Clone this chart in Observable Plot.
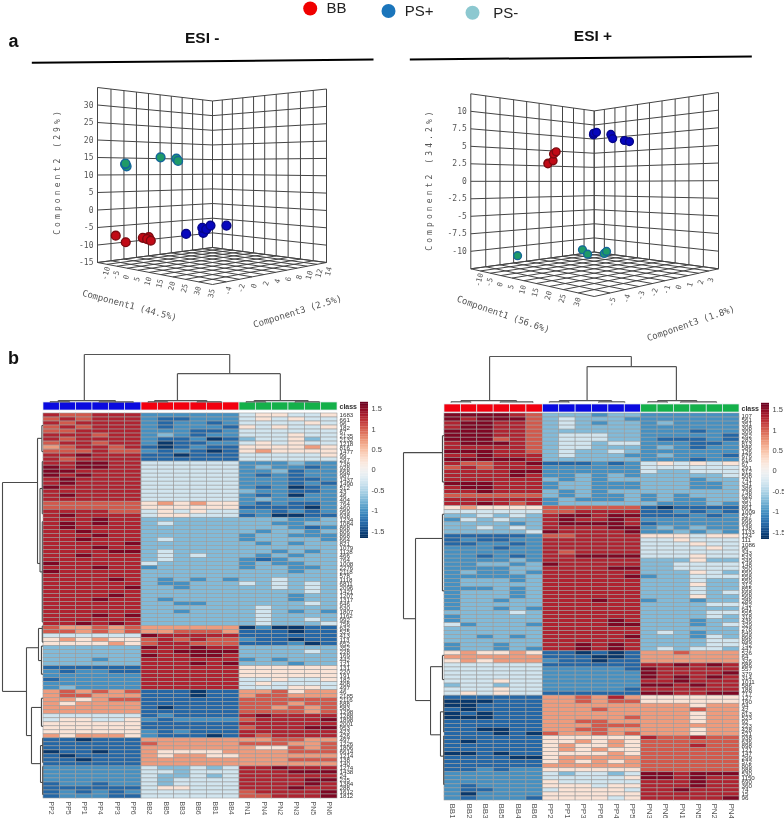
<!DOCTYPE html>
<html><head><meta charset="utf-8"><title>ESI PCA and heatmaps</title>
<style>html,body{margin:0;padding:0;background:#fff}#page{position:relative;width:784px;height:818px;overflow:hidden;filter:blur(.3px)}#page svg{position:absolute;overflow:visible}</style>
<script src="https://cdn.jsdelivr.net/npm/d3@7"></script>
<script src="https://cdn.jsdelivr.net/npm/@observablehq/plot@0.6"></script>
</head><body><div id="page"></div>
<script>
// ---------- PCA scores ----------
const negGroup=["PS-","PS-","PS-","PS-","PS-","PS-","PS+","PS+","PS+","PS+","PS+","PS+","BB","BB","BB","BB","BB","BB"];
const negC1=[-5.3,-7.7,-7.5,9.0,15.8,16.5,11.6,18.8,18.4,20.0,21.7,27.9,-12.5,-7.4,0.9,3.7,2.9,4.6];
const negC2=[12.5,13.1,13.3,14.9,14.5,13.9,-5.8,-5.0,-3.7,-4.0,-2.9,-2.5,-7.5,-9.0,-7.1,-6.7,-7.3,-7.6];
const negC3=[-4.5,-4,-4,-4,-4,-4,-1,-1,-1,-1,-1,-1,-4,-4,-4,-4,-4,-4];
const posGroup=["BB","BB","BB","BB","BB","BB","PS+","PS+","PS+","PS+","PS+","PS+","PS+","PS-","PS-","PS-","PS-","PS-"];
const posC1=[-4.5,-4.6,-2.2,-1.6,-2.0,-0.8,9.7,9.8,10.9,16.5,17.2,21.5,23.3,0.6,13.0,15.0,21.2,22.0];
const posC2=[2.7,2.6,3.0,4.1,4.0,4.3,6.6,6.8,6.9,6.4,5.8,5.4,5.2,-10.1,-9.3,-9.8,-9.4,-9.1];
const posC3=[-2,-2,-2,-2,-2,-2,-1,-1,-1,-1,-1,-1,-1,-5,-2.5,-2.5,-2.5,-2.5];
// axis ticks
const negTicks1=[-10,-5,0,5,10,15,20,25,30,35], negTicks2=[-15,-10,-5,0,5,10,15,20,25,30], negTicks3=[-4,-2,0,2,4,6,8,10,12,14];
const posTicks1=[-10,-5,0,5,10,15,20,25,30], posTicks2=[-10,-7.5,-5,-2.5,0,2.5,5,7.5,10], posTicks3=[-5,-4,-3,-2,-1,0,1,2,3];
// ---------- heatmap samples and feature labels ----------
const negSamples=["PP2","PP5","PP1","PP4","PP3","PP6","BB2","BB5","BB3","BB6","BB1","BB4","PN1","PN4","PN2","PN3","PN5","PN6"];
const posSamples=["BB1","BB2","BB3","BB5","BB4","BB6","PP2","PP1","PP3","PP6","PP4","PP5","PN3","PN6","PN1","PN5","PN2","PN4"];
const negFeatures=["1683","661","96","182","67","2135","2132","1218","816","1477","99","297","738","928","668","987","1437","1490","512","43","46","404","764","460","959","938","1234","1084","868","806","868","664","821","1079","1128","466","764","1008","2276","2118","578","1118","6811","2096","1421","1207","1317","646","630","1807","1162","992","756","632","525","413","113","652","352","228","169","442","121","131","220","191","182","408","497","46","2185","2116","688","583","1298","1288","1898","2001","953","423","426","497","1226","1806","6614","1214","138","140","1274","1438","24","235","1384","288","1612","1812"];
const posFeatures=["107","561","351","308","309","262","283","813","586","126","676","616","67","291","312","508","741","341","386","738","628","357","351","861","1009","527","666","696","138","1133","124","111","1086","96","343","533","249","148","350","559","558","559","312","855","668","568","286","752","641","555","318","436","329","278","649","868","896","752","447","526","64","326","986","557","379","314","1011","586","188","717","127","190","94","42","813","523","92","223","428","521","938","636","898","121","147","299","572","806","988","530","1150","690","360","74","15","96"];
const negClasses=["PS+","BB","PN"], posClasses=["BB","PS+","PN"];
// ---------- z-score levels: each digit 0..9 is a level ----------
const cellLevels=[-1.6,-1.3,-1.02,-.72,-.3,.22,.7,1.02,1.3,1.55];
const negCells=[
"877888 222222 455445","787888 211222 454544","878888 212212 444454","787888 212221 545445","778888 222112 444444","888788 232122 444544",
"878888 211201 344534","788788 201122 454544","678878 101211 555565","777877 212101 565555","889888 110111 444445","878888 111111 444444",
"889988 444444 222322","989988 444444 232212","998888 444444 223122","989888 444444 212122","898888 444444 222112","898888 444444 222121",
"988888 444444 212012","888888 444444 322112","898888 444444 212022","888888 444444 232222","777777 565655 212112","777777 555555 111102",
"888877 454544 221212","898888 455444 120011",
"888988 333333 333223","898988 343333 332233","898888 333333 333212","889888 333333 323323","888988 333333 233222","889888 343333 233332",
"888889 333333 323233","888988 333333 333333","888899 343333 332323","889888 343433 323233","888888 343333 212333","988888 433333 232233",
"888988 233333 233223","988888 333333 333233","888888 333333 333333","888898 323232 334333","888888 322333 434343","888889 332333 334343",
"888888 333333 333343","888898 333333 333233","888988 323333 333233","888888 332233 333343","888888 333333 343333","888888 332333 343232",
"888989 333333 343333","888888 333333 343343","889898 333333 343334",
"766767 666666 020011","776767 667776 111011","444444 988888 111111","565655 787877 211011","555565 788777 111201",
"333333 988988 333333","333333 889999 333343","333333 988998 333333","333233 888888 232333","333333 888989 333233",
"111111 888888 555555","212211 888888 555555","222222 888888 555555","122222 888888 445445","222222 888888 454444","232222 888888 444554",
"676767 111011 667566","677666 111011 677666","665677 111111 777777","656666 111111 777677","666666 101111 776767","666666 111111 777767",
"444444 121111 898888","455445 212222 788889","555555 111111 888888","555555 111111 788899","555555 212111 888888","656665 211101 878888",
"110111 666666 667766","111111 766666 777667","111111 666666 655767","011011 655556 666777","101111 656655 666666","110111 666666 666777","111111 666666 666666",
"222222 433434 889888","222222 443444 888999","222222 433434 888888","222222 434444 888899","122122 434444 888898","111111 455444 888988","121212 444444 788889","122211 444444 778889"];
const posCells=[
"999987 333233 222222","989997 343332 222222","899887 343233 232222","899887 343333 222222","999887 333333 222122","999887 344433 222221",
"999787 344433 211121","899987 344344 222112","888887 344333 232122","999887 343343 222222","889888 343332 232221","999998 333333 222122",
"877889 111212 454545","787888 222222 444444","888899 222222 433444","888898 223232 333334","888888 323233 333233","999888 233222 333223",
"899888 233222 333223","889888 323233 333333","777777 323223 232333","888888 232223 232233","889878 233333 322232",
"565555 777777 101111","444444 778888 112121","334343 899899 111212","243433 898898 222222","333323 899998 122222","334343 888899 232322","333334 988889 223232",
"111112 778888 555455","121122 888888 445444","112212 888888 444544","222122 888888 444454","222222 878888 444444","221212 889999 444544",
"222232 888888 333533","223323 988888 334444","222233 888899 334444","232232 888888 333543","222223 888889 233444","233323 888888 333433",
"233333 888888 333533","222323 888888 333433","233323 888888 333434","233323 888888 333533","233233 888988 233233","233333 888888 333344",
"233232 888888 333333","333343 888888 333344","233333 888888 333343","233333 888898 333233","423332 888899 333234","333333 888888 333333",
"333333 888888 343233","332323 888889 333243","333333 888888 333344","233233 889898 333344","233232 889898 343443",
"565565 110101 667666","666666 111001 666666","565666 211011 666666",
"444444 111111 889898","444444 222221 988888","444444 222222 988889","444444 222222 989898","444544 222222 889888","344344 222222 998988","444544 222221 888888","454544 111111 998899",
"111111 667686 555555","000111 667677 555555","001111 666666 666566","101111 666766 666766","010111 666666 666566","000111 666667 666566","111111 667766 666566","111111 666777 666666","110011 667766 666566","111010 766767 666566",
"111111 555555 877877","101111 556565 777777","111111 565565 777877","111111 565655 777777","001011 555565 777777","111100 566666 777777","111111 565656 777777","111111 666666 777777","112122 555555 777777",
"222222 434434 998999","222222 444445 998988","222222 544444 888988","212222 555455 888988","211222 455554 889888","202222 555555 888888","212221 555545 888889"];
// ---------- dendrogram merges: [height, position a, position b, child height a, child height b] ----------
const negColMerges=[[1,2.5,11.4,.04,.6],[.6,8.2,14.5,.04,.04],[.04,.9,4.4,.015,.015],[.04,6.8,10,.015,.015],[.04,12.9,16.2,.015,.015],[.015,.4,1.6,0,0],[.015,3.4,5.5,0,0],[.015,6.4,7.6,0,0],[.015,9.4,10.9,0,0],[.015,12.4,13.6,0,0],[.015,15.4,16.9,0,0]];
const posColMerges=[[1,2.75,11.4,.04,.78],[.78,8.7,14.15,.04,.04],[.04,1,4.4,.015,.015],[.04,7,10.2,.015,.015],[.04,13,15.4,.015,.015],[.015,.4,1.6,0,0],[.015,3.4,5.4,0,0],[.015,6.4,7.6,0,0],[.015,9.4,11,0,0],[.015,12.4,13.6,0,0],[.015,14.4,16.6,0,0]];
const negRowMerges=[[1,17.2,69.3,.146,.415],[.146,6.2,37.4,.04,.085],[.04,3,9.5,.01,.01],[.085,18.7,39.5,.03,.03],[.03,12,25,.01,.01],[.03,27,52,.01,.01],[.415,58.4,80.3,.122,.293],[.122,53.6,61.6,.03,.05],[.03,53,57,.005,.005],[.05,58,65,.01,.01],[.293,73.3,87.3,.05,.073],[.05,71,78,.01,.01],[.073,82.8,92,.02,.02],[.02,81,87,.005,.005],[.02,88,95,.005,.005]];
const posRowMerges=[[1,9.7,50.9,.05,.707],[.05,5.5,17,.01,.01],[.707,31,71.2,.05,.341],[.05,25,44,.01,.01],[.341,62.8,79.7,.05,.098],[.05,60,66,.01,.01],[.098,74,85,.02,.02],[.02,70,79,.005,.005],[.02,80,92,.005,.005]];
const classColors={"PS+":"#0a0adf","BB":"#f2000f","PN":"#14b04a"};
const groupFill={"BB":"#c10a16","PS+":"#0606bd","PS-":"#1f9a68"}, groupStroke={"BB":"#7d0a10","PS+":"#05058a","PS-":"#14669a"};
const legendNames=["BB","PS+","PS-"], legendColors=["#f00000","#1b75bb","#8cc8d0"];
const colorTicks=[-1.5,-1,-0.5,0,0.5,1,1.5];

// ---------- helpers ----------
const page=document.getElementById("page");
const color={type:"linear",scheme:"RdBu",reverse:true,domain:[-1.65,1.65]};
function put(svg,left,top){svg.style.left=left+"px";svg.style.top=top+"px";page.appendChild(svg);return svg}
const base={margin:0,style:{background:"transparent",overflow:"visible"}};
function homography(L,F,R,B){const dx1=F[0]-R[0],dy1=F[1]-R[1],dx2=B[0]-R[0],dy2=B[1]-R[1],sx=L[0]-F[0]+R[0]-B[0],sy=L[1]-F[1]+R[1]-B[1],den=dx1*dy2-dx2*dy1,g=(sx*dy2-dx2*sy)/den,h=(dx1*sy-sx*dy1)/den;return{a:F[0]-L[0]+g*F[0],b:B[0]-L[0]+h*B[0],c:L[0],d:F[1]-L[1]+g*F[1],e:B[1]-L[1]+h*B[1],f:L[1],g,h}}

function pca(o){
  const {dom1,dom2,dom3,wallH}=o,H=homography(...o.corners);
  const proj=(a,b,c)=>{const u=(a-dom1[0])/(dom1[1]-dom1[0]),v=(c-dom3[0])/(dom3[1]-dom3[0]),t=(b-dom2[0])/(dom2[1]-dom2[0]),w=H.g*u+H.h*v+1;
    return [(H.a*u+H.b*v+H.c)/w,(H.d*u+H.e*v+H.f)/w-t*wallH/w]};
  const range=(d,s)=>d3.range(d[0],d[1]+1e-6,s);
  const segs=[];const seg=(p,q)=>segs.push({p:proj(...p),q:proj(...q)});
  for(const b of range(dom2,o.step2)){seg([dom1[0],b,dom3[0]],[dom1[0],b,dom3[1]]);seg([dom1[0],b,dom3[1]],[dom1[1],b,dom3[1]])}
  for(const c of range(dom3,o.step3)){seg([dom1[0],dom2[0],c],[dom1[0],dom2[1],c]);seg([dom1[0],dom2[0],c],[dom1[1],dom2[0],c])}
  for(const a of range(dom1,o.step1)){seg([a,dom2[0],dom3[1]],[a,dom2[1],dom3[1]]);seg([a,dom2[0],dom3[0]],[a,dom2[0],dom3[1]])}
  const pts=o.g.map((g,i)=>({g,p:proj(o.c1[i],o.c2[i],o.c3[i])}));
  const tx=(t,opt)=>Plot.text(t.rows,{x:d=>d.p[0],y:d=>d.p[1],text:d=>d.t,fontFamily:"DejaVu Sans Mono",fill:"#555",...opt});
  const svg=Plot.plot({...base,width:392,height:345,x:{domain:[0,392],range:[0,392],axis:null},y:{domain:[345,0],range:[345,0],axis:null},
   marks:[
    Plot.link(segs,{x1:d=>d.p[0],y1:d=>d.p[1],x2:d=>d.q[0],y2:d=>d.q[1],stroke:"#444",strokeWidth:1}),
    tx({rows:o.t2.map(t=>({t,p:proj(dom1[0],t,dom3[0])}))},{textAnchor:"end",dx:-4,fontSize:8}),
    tx({rows:o.t1.map(t=>({t,p:proj(t,dom2[0],dom3[0])}))},{rotate:-75,dy:9,dx:-1,fontSize:7.5}),
    tx({rows:o.t3.map(t=>({t,p:proj(dom1[1],dom2[0],t)}))},{rotate:-75,dy:9,dx:2,fontSize:7.5}),
    Plot.text([o.titleY.text],{x:[o.titleY.at[0]],y:[o.titleY.at[1]],text:d=>d,rotate:-90,fontFamily:"DejaVu Sans Mono",fontSize:8,fill:"#555",className:"spaced"}),
    Plot.text([o.title1.text],{x:[o.title1.at[0]],y:[o.title1.at[1]],text:d=>d,rotate:o.title1.rot,fontFamily:"DejaVu Sans Mono",fontSize:9,fill:"#555"}),
    Plot.text([o.title3.text],{x:[o.title3.at[0]],y:[o.title3.at[1]],text:d=>d,rotate:o.title3.rot,fontFamily:"DejaVu Sans Mono",fontSize:9,fill:"#555"}),
    Plot.dot(pts,{x:d=>d.p[0],y:d=>d.p[1],r:o.r,fill:d=>groupFill[d.g],stroke:d=>groupStroke[d.g],strokeWidth:1.4})
   ]});
  d3.select(svg).selectAll(".spaced text,text.spaced").style("letter-spacing","3.1px");
  return svg;
}
function long(rows){return rows.flatMap((r,i)=>[...r.replace(/ /g,"")].map((ch,j)=>({i,j,v:cellLevels[+ch]})))}

function heatmap(o){
  const n=o.cells.length;
  put(Plot.plot({...base,width:o.w+50,height:o.h+20,marginRight:50,marginBottom:20,
    x:{type:"band",domain:d3.range(18),padding:0,round:false,axis:null},y:{type:"band",domain:d3.range(n),padding:0,round:false,axis:null},color,
    marks:[Plot.cell(long(o.cells),{x:"j",y:"i",fill:"v",stroke:"#9c9c9c",strokeWidth:.6}),
      Plot.axisY({anchor:"right",ticks:d3.range(n),tickSize:0,tickPadding:2,tickFormat:i=>o.features[i],fontSize:6.2,fontFamily:"Liberation Sans",label:null,fill:"#333"}),
      Plot.axisX({anchor:"bottom",ticks:d3.range(18),tickSize:0,tickPadding:3,tickRotate:90,tickFormat:j=>o.samples[j],fontSize:o.sampleSize,fontFamily:"Liberation Sans",label:null,fill:"#555"})
    ]}),o.x,o.y);
  // class bar
  const bar=o.samples.map((s,j)=>({j,c:o.classes[Math.floor(j/6)]}));
  put(Plot.plot({...base,width:o.w+30,height:o.barH,marginRight:30,x:{type:"band",domain:d3.range(18),padding:0,round:false,axis:null},y:{type:"band",domain:["class"],padding:0,round:false,axis:null},
    marks:[Plot.cell(bar,{x:"j",y:()=>"class",fill:d=>classColors[d.c],stroke:"#dfe8ee",strokeWidth:.7}),
      Plot.axisY({anchor:"right",tickSize:0,tickPadding:2,fontSize:7,fontWeight:"bold",fontFamily:"Liberation Sans",label:null,fill:"#333"})]}),o.x,o.barY);
  // column dendrogram
  const colLinks=o.colMerges.flatMap(([h,a,b,ha,hb])=>[[a,h,b,h],[a,h,a,ha],[b,h,b,hb]]);
  put(Plot.plot({...base,width:o.w,height:o.dTopH,x:{domain:[0,18],range:[0,o.w],axis:null},y:{domain:[0,1],range:[o.dTopH,0],axis:null},
    marks:[Plot.link(colLinks,{x1:d=>d[0],y1:d=>d[1],x2:d=>d[2],y2:d=>d[3],stroke:"#555",strokeWidth:1.2})]}),o.x,o.dTopY);
  // row dendrogram
  const rowLinks=o.rowMerges.flatMap(([h,a,b,ha,hb])=>[[h,a,h,b],[h,a,ha,a],[h,b,hb,b]]);
  put(Plot.plot({...base,width:41,height:o.h,x:{domain:[1,0],range:[0,41],axis:null},y:{domain:[0,n],range:[0,o.h],axis:null},
    marks:[Plot.link(rowLinks,{x1:d=>d[0],y1:d=>d[1],x2:d=>d[2],y2:d=>d[3],stroke:"#4a4a4a",strokeWidth:1.1})]}),o.x-41,o.y);
  // colour bar
  const st=.04,bands=d3.range(-1.67,1.65,st);
  put(Plot.plot({...base,width:8,height:136,x:{domain:[0,1],axis:null},y:{domain:[-1.67,1.65],range:[136,0],axis:null},color,
    marks:[Plot.rect(bands,{x1:0,x2:1,y1:d=>d,y2:d=>d+st+.005,fill:d=>d+st/2}),
      Plot.axisY(colorTicks,{anchor:"right",tickSize:0,tickPadding:3,fontSize:7.5,fontFamily:"Liberation Sans",tickFormat:d=>String(d),label:null,fill:"#444"})]}),o.cbX,o.cbY);
}

// ---------- page furniture ----------
const legendX=[309.7,388,472],legendY=[8,10.5,12.3],legendTx=[326,404.3,492.7];
put(Plot.plot({...base,width:784,height:818,x:{domain:[0,784],range:[0,784],axis:null},y:{domain:[818,0],range:[818,0],axis:null},
  marks:[
   Plot.dot(legendNames,{x:(d,i)=>legendX[i],y:(d,i)=>legendY[i],r:7,fill:(d,i)=>legendColors[i]}),
   Plot.text(legendNames,{x:(d,i)=>legendTx[i],y:(d,i)=>legendY[i],text:d=>d,textAnchor:"start",fontSize:15,fontFamily:"Liberation Sans",fill:"#222"}),
   Plot.text(["ESI -","ESI +"],{x:[201.7,592.5],y:[38,36],text:d=>d,fontSize:15.5,fontWeight:"bold",fontFamily:"Liberation Sans",fill:"#111"}),
   Plot.text(["a","b"],{x:[13,13],y:[41,358],text:d=>d,fontSize:18,fontWeight:"bold",fontFamily:"Liberation Sans",fill:"#111"}),
   Plot.link([0,1],{x1:[31.3,409.3],y1:[62.3,59],x2:[373,751.3],y2:[59,56],stroke:"#000",strokeWidth:2})
  ]}),0,0);

put(pca({corners:[[97,262],[212,284],[326,262],[212,247]],wallH:175,dom1:[-15,35],dom2:[-15,35],dom3:[-6,14],step1:5,step2:5,step3:2,
  c1:negC1,c2:negC2,c3:negC3,g:negGroup,t1:negTicks1,t2:negTicks2,t3:negTicks3,r:4.4,
  titleY:{text:"Component2 (29%)",at:[57,171]},title1:{text:"Component1 (44.5%)",at:[129,305],rot:15},title3:{text:"Component3 (2.5%)",at:[297,311],rot:-17}}),0,0);
put(pca({corners:[[78.3,268.3],[201.7,296],[326,268.3],[201.7,251.5]],wallH:175,dom1:[-15,35],dom2:[-12.5,12.5],dom3:[-6,4],step1:5,step2:2.5,step3:1,
  c1:posC1,c2:posC2,c3:posC3,g:posGroup,t1:posTicks1,t2:posTicks2,t3:posTicks3,r:3.9,
  titleY:{text:"Component2 (34.2%)",at:[37,179]},title1:{text:"Component1 (56.6%)",at:[110.7,314],rot:19},title3:{text:"Component3 (1.8%)",at:[298.3,323],rot:-19}}),392,0);

heatmap({x:43,y:413,w:294,h:385,cells:negCells,features:negFeatures,samples:negSamples,classes:negClasses,sampleSize:7,barY:402,barH:8,colMerges:negColMerges,rowMerges:negRowMerges,dTopY:354,dTopH:48,cbX:360,cbY:402});
heatmap({x:444,y:413,w:295,h:387,cells:posCells,features:posFeatures,samples:posSamples,classes:posClasses,sampleSize:8,barY:404,barH:8,colMerges:posColMerges,rowMerges:posRowMerges,dTopY:356,dTopH:46,cbX:761,cbY:403});
</script></body></html>
